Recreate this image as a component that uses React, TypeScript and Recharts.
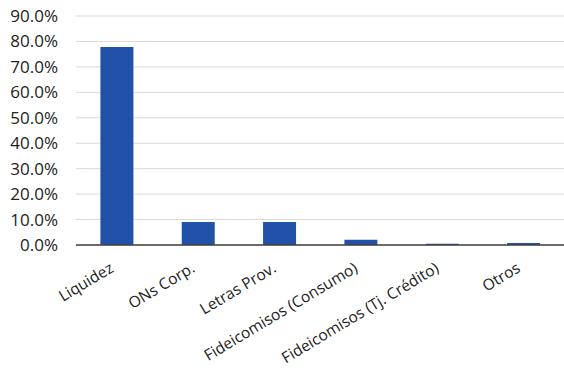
import { BarChart, Bar, XAxis, YAxis, CartesianGrid } from "recharts";

const categories = [
  "Liquidez",
  "ONs Corp.",
  "Letras Prov.",
  "Fideicomisos (Consumo)",
  "Fideicomisos (Tj. Crédito)",
  "Otros",
];
const shares = [77.8, 9.0, 9.0, 2.1, 0.5, 0.8];
const yTicks = [0, 10, 20, 30, 40, 50, 60, 70, 80, 90];

const data = categories.map((label, i) => ({ label, value: shares[i] }));

const font = "'Open Sans', 'Noto Sans', sans-serif";

const CategoryTick = ({ x, y, payload }: any) => (
  <g transform={`translate(${x - 2},${y + 18})`}>
    <text
      x={0}
      y={0}
      textAnchor="end"
      transform="rotate(-31)"
      fontFamily={font}
      fontSize={15.5}
      fill="#222"
    >
      {payload.value}
    </text>
  </g>
);

export default function App() {
  return (
    <div style={{ position: "absolute", left: 0, top: 0, width: 564, height: 368, background: "#fff" }}>
      <BarChart
        width={564}
        height={368}
        data={data}
        margin={{ top: 16, right: 0, bottom: 0, left: 0 }}
        barCategoryGap="30%"
      >
        <CartesianGrid vertical={false} stroke="#d9d9d9" strokeWidth={1} />
        <XAxis
          dataKey="label"
          interval={0}
          height={123}
          tickLine={false}
          axisLine={{ stroke: "#404040", strokeWidth: 1.5 }}
          tick={<CategoryTick />}
        />
        <YAxis
          width={76}
          domain={[0, 90]}
          ticks={yTicks}
          tickFormatter={(v: number) => `${v.toFixed(1)}%`}
          axisLine={false}
          tickLine={false}
          tickMargin={12}
          tick={{ fontFamily: font, fontSize: 17, fill: "#222" }}
        />
        <Bar dataKey="value" fill="#2151a8" isAnimationActive={false} />
      </BarChart>
    </div>
  );
}
